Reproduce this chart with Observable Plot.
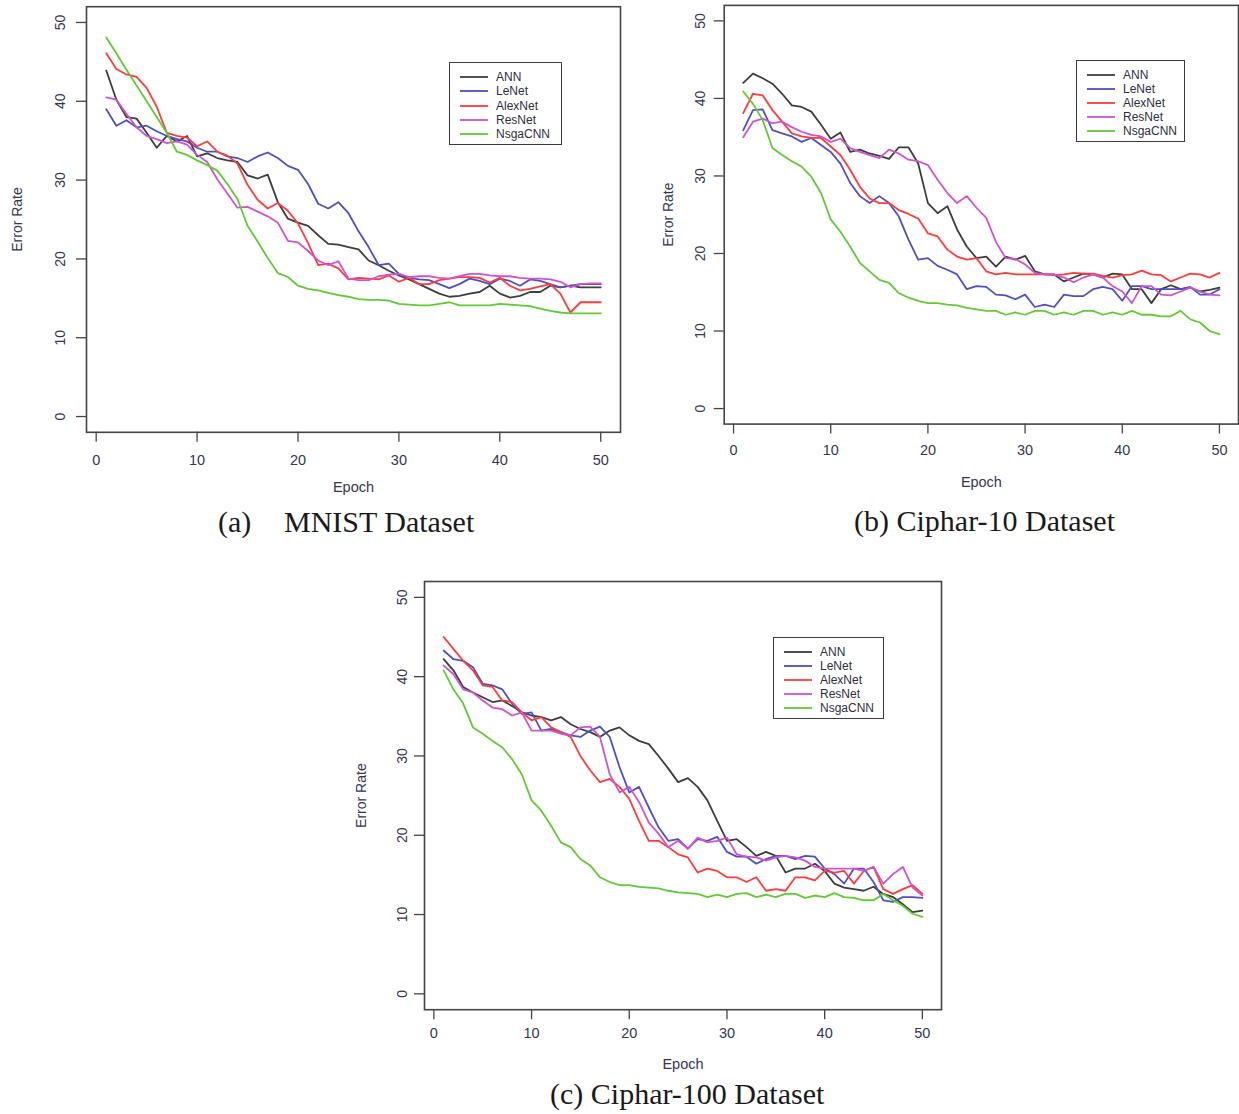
<!DOCTYPE html>
<html>
<head>
<meta charset="utf-8">
<script src="https://cdn.jsdelivr.net/npm/d3@7"></script>
<script src="https://cdn.jsdelivr.net/npm/@observablehq/plot@0.6"></script>
<style>
html,body{margin:0;padding:0;background:#fff;overflow:hidden;}
#fig{position:relative;width:1239px;height:1114px;overflow:hidden;background:#fff;}
.panel{position:absolute;}
.cap{position:absolute;font-family:"Liberation Serif","Times New Roman",serif;font-size:30px;color:#1a1a1a;line-height:30px;white-space:pre;}
.legend{position:absolute;border:1.5px solid #3a3a3a;background:#fff;box-sizing:border-box;font-family:"Liberation Sans",Arial,sans-serif;font-size:12px;color:#2e2e3c;}
.legend .row{position:absolute;left:0;height:14px;display:flex;align-items:center;white-space:nowrap;}
</style>
</head>
<body>
<div id="fig"></div>
<script>
// ---------- categories ----------
const models = ["ANN", "LeNet", "AlexNet", "ResNet", "NsgaCNN"];
const colors = ["#3d3d3d", "#4f4fc4", "#ff3b3b", "#cf52cf", "#62c935"];
const epochs = d3.range(1, 51);
const xTicks = [0, 10, 20, 30, 40, 50];
const yTicks = [0, 10, 20, 30, 40, 50];

// ---------- (a) MNIST ----------
const mnistANN = [43.9,40.2,38.0,37.8,36.0,34.1,35.6,34.9,35.6,33.0,33.4,32.8,32.5,32.3,30.6,30.2,30.7,27.2,25.1,24.6,24.2,23.0,21.9,21.8,21.5,21.2,19.8,19.2,18.5,17.9,17.4,16.8,16.2,15.6,15.2,15.3,15.6,15.8,16.6,15.6,15.1,15.3,15.8,15.8,16.6,16.4,16.6,16.4,16.4,16.4];
const mnistLeNet = [39.0,36.9,37.6,36.7,36.9,36.2,35.6,35.2,34.9,34.1,33.6,33.6,33.0,32.8,32.3,33.0,33.5,32.8,31.8,31.3,29.5,27.0,26.4,27.2,25.8,23.5,21.5,19.2,19.4,18.1,17.6,17.4,17.3,16.8,16.3,16.8,17.5,17.2,16.8,17.5,17.2,16.6,17.4,17.2,16.8,16.4,16.6,16.8,16.8,16.8];
const mnistAlexNet = [46.1,44.1,43.4,43.1,41.7,39.3,36.0,35.6,35.4,34.3,34.9,33.6,33.1,32.1,29.4,27.5,26.4,27.1,26.1,24.5,22.0,19.2,19.4,18.8,17.4,17.6,17.5,17.4,17.9,17.1,17.6,16.8,16.8,17.3,17.5,17.7,17.7,17.6,17.0,17.6,16.6,16.0,16.2,16.5,16.8,15.6,13.2,14.5,14.5,14.5];
const mnistResNet = [40.5,40.2,38.4,36.7,35.6,35.2,34.7,34.9,34.5,33.2,32.3,30.1,28.3,26.5,26.6,26.0,25.4,24.6,22.3,22.1,21.0,19.8,19.2,19.7,17.5,17.3,17.3,17.8,18.0,18.1,17.7,17.8,17.8,17.6,17.5,17.8,18.1,18.1,17.9,17.8,17.8,17.6,17.5,17.5,17.4,17.1,16.4,16.8,16.9,16.9];
const mnistNsgaCNN = [48.1,46.1,44.0,42.0,40.0,38.0,36.0,33.6,33.2,32.5,31.9,31.2,29.5,27.6,24.2,22.2,20.1,18.2,17.7,16.6,16.2,16.0,15.7,15.4,15.2,14.9,14.8,14.8,14.7,14.3,14.2,14.1,14.1,14.3,14.5,14.1,14.1,14.1,14.1,14.3,14.2,14.1,14.0,13.7,13.4,13.2,13.1,13.1,13.1,13.1];

// ---------- (b) Ciphar-10 ----------
const c10ANN = [42.0,43.2,42.6,41.9,40.6,39.1,38.9,38.3,36.6,34.8,35.6,33.1,33.4,32.9,32.6,32.2,33.7,33.7,31.6,26.5,25.2,26.1,23.1,20.9,19.4,19.6,18.3,19.6,19.2,19.7,17.7,17.3,17.3,16.4,16.9,17.4,17.3,16.9,17.4,17.3,15.4,15.4,13.6,15.4,15.9,15.4,15.6,15.1,15.3,15.6];
const c10LeNet = [35.9,38.5,38.6,35.9,35.5,35.1,34.4,34.9,34.0,33.1,31.6,29.1,27.4,26.5,27.4,26.5,24.8,21.8,19.2,19.4,18.4,17.9,17.3,15.4,15.8,15.7,14.7,14.6,14.1,14.7,13.1,13.4,13.1,14.7,14.5,14.5,15.4,15.7,15.4,13.9,15.8,15.8,15.4,15.4,15.4,15.4,15.7,14.7,14.7,15.4];
const c10AlexNet = [38.1,40.6,40.4,38.5,37.0,35.5,35.1,34.9,34.9,33.8,32.7,30.8,28.6,27.1,26.5,26.5,25.6,25.1,24.5,22.6,22.2,20.5,19.6,19.2,19.4,17.7,17.3,17.5,17.3,17.3,17.3,17.3,17.2,17.3,17.5,17.4,17.4,17.1,16.9,17.2,17.3,17.8,17.3,17.2,16.4,16.9,17.4,17.3,16.9,17.5];
const c10ResNet = [35.0,37.0,37.4,36.8,37.0,36.3,35.7,35.3,35.1,34.4,34.8,33.6,33.1,32.7,32.3,33.4,32.9,32.1,31.9,31.4,29.5,27.8,26.5,27.4,25.9,24.6,21.5,19.4,19.3,18.6,17.5,17.3,17.3,16.9,16.3,16.9,17.3,16.9,15.8,15.1,13.6,15.8,15.8,14.7,14.6,15.1,15.6,15.1,14.7,14.6];
const c10NsgaCNN = [40.9,39.3,37.2,33.6,32.7,31.9,31.2,29.9,27.8,24.4,22.8,20.9,18.8,17.7,16.6,16.2,14.9,14.3,13.9,13.6,13.6,13.4,13.3,13.0,12.8,12.6,12.6,12.1,12.4,12.1,12.6,12.6,12.1,12.4,12.1,12.6,12.6,12.1,12.4,12.1,12.6,12.1,12.1,11.9,11.9,12.6,11.5,11.1,10.0,9.6];

// ---------- (c) Ciphar-100 ----------
const c100ANN = [42.2,40.8,38.7,38.0,37.4,36.8,37.0,36.3,35.5,35.1,34.9,34.5,34.9,34.0,33.4,33.0,32.4,33.2,33.6,32.6,31.9,31.5,30.0,28.4,26.7,27.2,26.1,24.4,21.8,19.3,19.5,18.5,17.4,17.9,17.4,15.3,15.8,15.8,16.4,15.5,13.9,13.4,13.2,13.0,13.5,12.6,12.2,11.3,10.3,10.5];
const c100LeNet = [43.3,42.2,42.0,41.2,39.1,38.9,38.4,36.6,35.3,35.5,33.2,33.4,33.0,32.6,32.4,33.2,33.7,32.4,28.6,25.4,26.1,23.5,21.0,19.3,19.5,18.3,19.5,19.3,19.8,17.9,17.3,17.3,16.4,17.0,17.4,17.4,17.0,17.4,17.3,15.8,15.1,13.9,15.8,15.8,14.1,11.8,11.6,12.2,12.2,12.1];
const c100AlexNet = [45.0,43.5,42.0,40.8,38.9,38.7,37.0,36.8,35.5,34.5,34.9,33.6,33.0,32.4,30.0,28.2,26.7,27.1,26.1,24.6,21.8,19.3,19.3,18.5,17.6,17.2,15.3,15.8,15.5,14.7,14.7,14.1,14.7,13.0,13.2,13.0,14.7,14.7,14.3,15.5,15.3,15.5,13.9,15.5,16.0,13.2,12.6,13.2,13.7,12.6];
const c100ResNet = [41.4,40.3,38.4,38.0,37.0,36.1,35.9,35.1,35.5,33.2,33.2,33.2,32.8,32.6,33.6,33.7,32.4,27.7,25.4,26.1,24.2,21.6,20.2,18.5,19.3,18.3,19.7,19.1,19.3,19.7,17.6,17.3,17.2,16.8,17.2,17.4,17.2,16.8,16.0,15.8,15.8,15.8,15.8,15.5,16.0,13.9,15.1,16.0,13.4,12.4];
const c100NsgaCNN = [40.8,38.4,36.6,33.6,32.8,31.9,31.1,29.6,27.7,24.4,23.1,21.2,19.1,18.5,17.0,16.2,14.7,14.1,13.7,13.7,13.5,13.4,13.3,13.0,12.8,12.7,12.6,12.2,12.5,12.2,12.6,12.7,12.2,12.5,12.2,12.6,12.6,12.1,12.4,12.2,12.7,12.2,12.1,11.8,11.8,12.6,11.8,11.1,10.1,9.7];

// ---------- build ----------
function toRows(seriesList) {
  const out = [];
  seriesList.forEach((vals, i) => vals.forEach((v, j) => out.push({epoch: epochs[j], value: v, model: models[i]})));
  return out;
}

const panels = [
  {series: [mnistANN, mnistLeNet, mnistAlexNet, mnistResNet, mnistNsgaCNN],
   left: 0, top: 0, width: 640, height: 500, ml: 86, mr: 20, mt: 6.2, mb: 68.2,
   yPad: 12, yLab: 74, xPad: 12, xLab: 60,
   legend: {left: 449, top: 62, w: 113, h: 83},
   captions: [{text: "(a)", left: 218, top: 507}, {text: "MNIST Dataset", left: 284, top: 507}]},
  {series: [c10ANN, c10LeNet, c10AlexNet, c10ResNet, c10NsgaCNN],
   left: 638, top: 0, width: 603, height: 500, ml: 86, mr: 1, mt: 4.9, mb: 75,
   yPad: 9, yLab: 61, xPad: 11, xLab: 63,
   legend: {left: 1076, top: 60, w: 109, h: 82},
   captions: [{text: "(b) Ciphar-10 Dataset", left: 854, top: 506}]},
  {series: [c100ANN, c100LeNet, c100AlexNet, c100ResNet, c100NsgaCNN],
   left: 340, top: 560, width: 620, height: 520, ml: 84, mr: 19, mt: 21, mb: 70.8,
   yPad: 8, yLab: 68, xPad: 8, xLab: 59,
   legend: {left: 773, top: 637, w: 111, h: 82},
   captions: [{text: "(c) Ciphar-100 Dataset", left: 550, top: 1079}]}
];

const fig = document.getElementById("fig");

panels.forEach(p => {
  const chart = Plot.plot({
    width: p.width, height: p.height,
    marginLeft: p.ml, marginRight: p.mr, marginTop: p.mt, marginBottom: p.mb,
    style: {fontFamily: "'Liberation Sans', Arial, sans-serif", fontSize: "14.5px", color: "#3a3a50", background: "transparent", overflow: "visible"},
    x: {domain: [-0.96, 51.96]},
    y: {domain: [-2, 52]},
    color: {domain: models, range: colors},
    marks: [
      Plot.axisX({ticks: xTicks, tickSize: 10, tickPadding: p.xPad, stroke: "#444", strokeWidth: 1.3, fill: "#363650",
        label: "Epoch", labelAnchor: "center", labelOffset: p.xLab, labelArrow: "none", fontSize: 14.5}),
      Plot.axisY({ticks: yTicks, tickSize: 10, tickPadding: p.yPad, tickRotate: -90, stroke: "#444", strokeWidth: 1.3, fill: "#363650",
        label: "Error Rate", labelAnchor: "center", labelOffset: p.yLab, labelArrow: "none", fontSize: 14}),
      Plot.line(toRows(p.series), {x: "epoch", y: "value", z: "model", stroke: "model", strokeWidth: 1.8}),
      Plot.frame({stroke: "#444", strokeWidth: 1.6})
    ]
  });
  const holder = document.createElement("div");
  holder.className = "panel";
  holder.style.left = p.left + "px";
  holder.style.top = p.top + "px";
  holder.appendChild(chart);
  fig.appendChild(holder);

  // legend
  const lg = document.createElement("div");
  lg.className = "legend";
  Object.assign(lg.style, {left: p.legend.left + "px", top: p.legend.top + "px", width: p.legend.w + "px", height: p.legend.h + "px"});
  const step = (p.legend.h - 26) / 4;
  models.forEach((m, i) => {
    const row = document.createElement("div");
    row.className = "row";
    row.style.top = (14 + i * step - 7) + "px";
    row.innerHTML = `<svg width="46" height="14" style="flex:none"><line x1="10" x2="38" y1="7" y2="7" stroke="${colors[i]}" stroke-width="1.8"/></svg><span>${m}</span>`;
    lg.appendChild(row);
  });
  fig.appendChild(lg);

  // caption
  p.captions.forEach(c => {
    const cap = document.createElement("div");
    cap.className = "cap";
    cap.style.left = c.left + "px";
    cap.style.top = c.top + "px";
    cap.textContent = c.text;
    fig.appendChild(cap);
  });
});
</script>
</body>
</html>
